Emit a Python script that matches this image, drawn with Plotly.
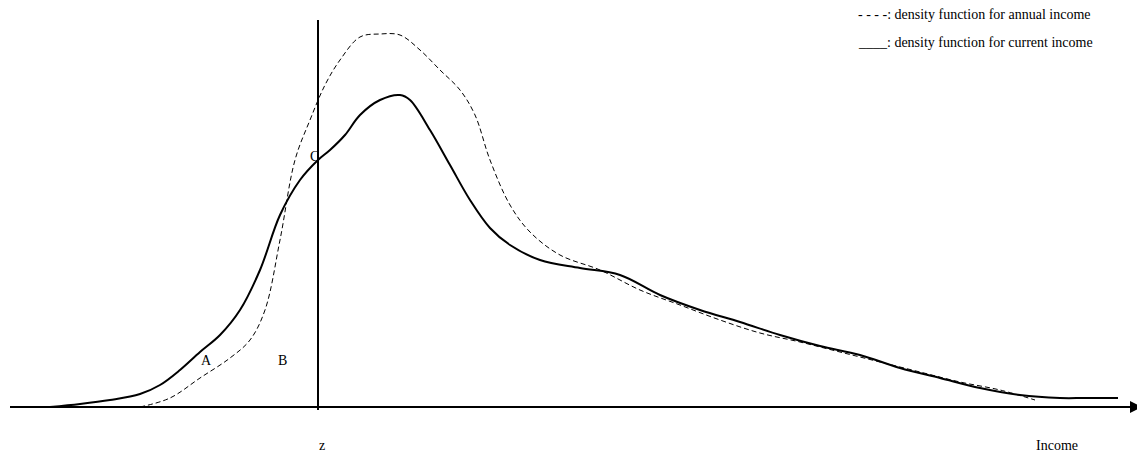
import plotly.graph_objects as go

# pixel-read positions; y measured upward from the income axis
cur_x = [50, 80, 110, 140, 160, 180, 200, 220, 240, 260, 280, 300, 318, 330, 345, 360, 380, 400, 410,
         430, 450, 470, 490, 510, 540, 580, 620, 660, 700, 740, 780, 820, 860, 900, 940, 980, 1020, 1060, 1085, 1118]
cur_y = [0, 3, 7, 13, 22, 37, 55, 72, 97, 137, 192, 227, 247, 257, 272, 292, 307, 312, 307,
         277, 242, 207, 179, 162, 147, 139, 132, 112, 97, 85, 72, 61, 52, 39, 29, 19, 12, 9, 9, 9]
ann_x = [140, 170, 200, 230, 250, 265, 280, 295, 310, 325, 340, 360, 380, 400, 420, 440, 460, 475, 490,
         510, 530, 560, 600, 640, 680, 720, 760, 800, 840, 880, 920, 960, 1000, 1035]
ann_y = [0, 9, 29, 49, 67, 97, 167, 247, 287, 322, 347, 370, 373, 372, 357, 337, 317, 292, 247,
         202, 175, 152, 137, 117, 102, 87, 74, 65, 55, 45, 35, 25, 17, 7]

fig = go.Figure()
fig.add_trace(go.Scatter(x=ann_x, y=ann_y, mode="lines", line=dict(color="black", width=1, dash="5px,3px"), line_shape="spline"))
fig.add_trace(go.Scatter(x=cur_x, y=cur_y, mode="lines", line=dict(color="black", width=2), line_shape="spline"))

fig.add_shape(type="line", x0=10, x1=1125, y0=0, y1=0, line=dict(color="black", width=2))
fig.add_annotation(x=1142, y=0, ax=1115, ay=0, xref="x", yref="y", axref="x", ayref="y",
                   showarrow=True, arrowhead=2, arrowsize=1.2, arrowwidth=2, arrowcolor="black", text="")
fig.add_shape(type="line", x0=318, x1=318, y0=-3, y1=387, line=dict(color="black", width=2))

f = dict(family="Liberation Serif", size=14, color="black")
for t, x, y in [("z", 322, -38), ("Income", 1057, -38), ("A", 206, 47), ("B", 282, 47), ("C", 314, 251)]:
    fig.add_annotation(x=x, y=y, text=t, showarrow=False, font=f)
fig.add_annotation(x=856, y=393, text="- - - -: density function for annual income", showarrow=False, font=f, xanchor="left")
fig.add_annotation(x=856, y=365, text="____: density function for current income", showarrow=False, font=f, xanchor="left")

fig.update_layout(width=1145, height=459, margin=dict(l=0, r=0, t=0, b=0), showlegend=False,
                  plot_bgcolor="white", paper_bgcolor="white",
                  xaxis=dict(range=[8, 1153], visible=False),
                  yaxis=dict(range=[-60, 399], visible=False))
fig.write_html("out.html")
